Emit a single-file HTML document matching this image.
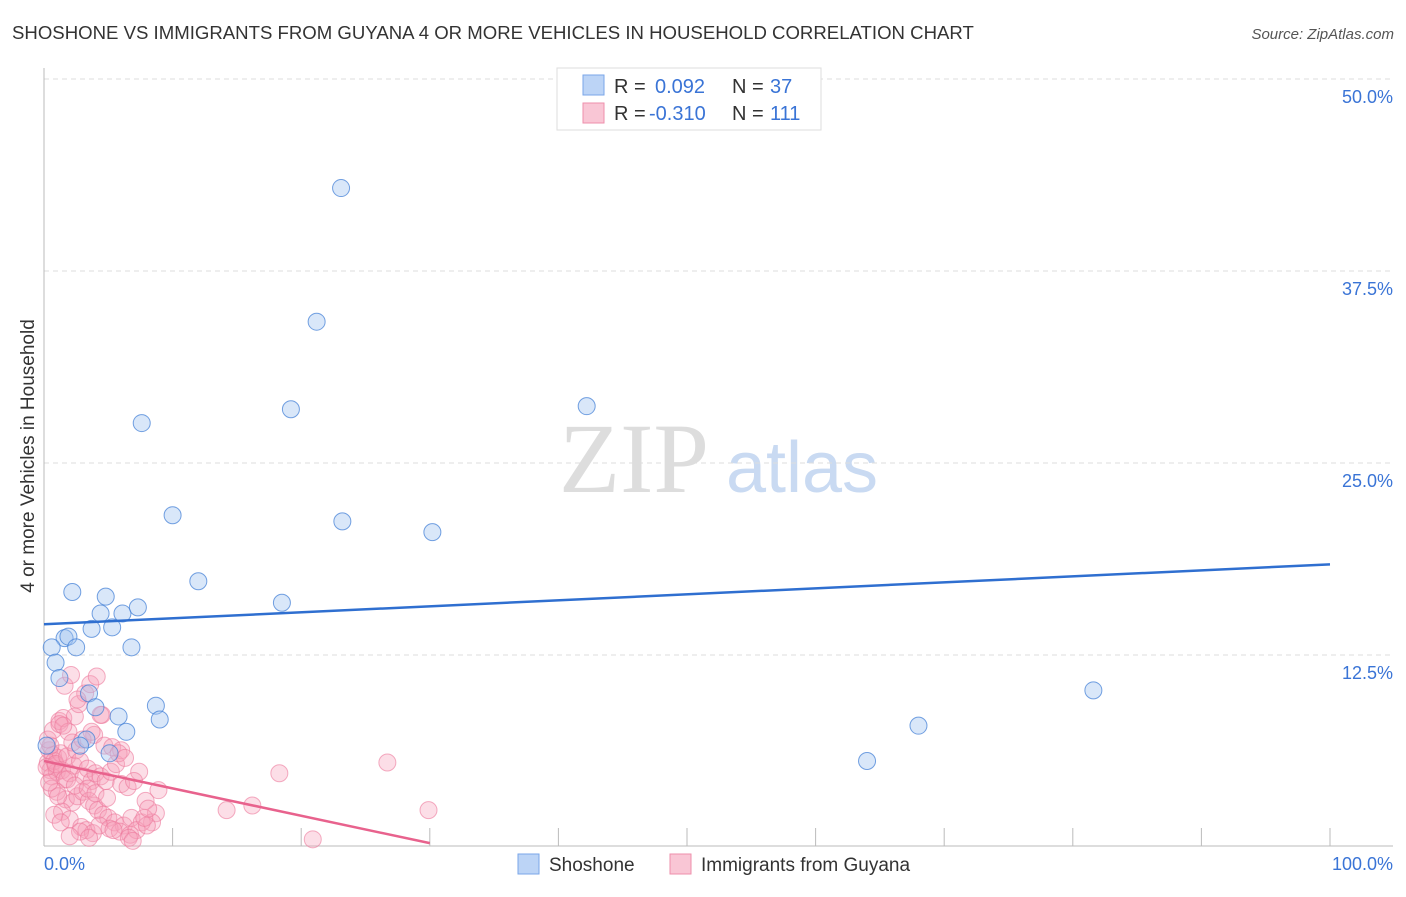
<!DOCTYPE html>
<html><head><meta charset="utf-8"><style>
body{margin:0;background:#fff;font-family:"Liberation Sans",sans-serif;}
</style></head><body>
<svg id="c" width="1406" height="892" xmlns="http://www.w3.org/2000/svg" font-family="Liberation Sans, sans-serif">
<text x="12" y="39" font-size="18.6" fill="#333">SHOSHONE VS IMMIGRANTS FROM GUYANA 4 OR MORE VEHICLES IN HOUSEHOLD CORRELATION CHART</text>
<text x="1394" y="39" font-size="15" fill="#555" font-style="italic" text-anchor="end">Source: ZipAtlas.com</text>
<text x="634" y="492" font-size="100" fill="#ddd" style="font-family:'Liberation Serif',serif" text-anchor="middle">ZIP</text>
<text x="802" y="492" font-size="72" fill="#c9daf2" text-anchor="middle">atlas</text>
<text x="34" y="456" font-size="19" fill="#333" text-anchor="middle" transform="rotate(-90 34 456)">4 or more Vehicles in Household</text>
<g id="grid"></g><g id="pts"></g><g id="trend"></g>
<g>
<rect x="557" y="68" width="264" height="62" fill="#fff" stroke="#ddd"/>
<rect x="583" y="75" width="21" height="20" fill="#bcd4f6" stroke="#7aa6e8"/>
<rect x="583" y="103" width="21" height="20" fill="#f9c6d5" stroke="#ee8fab"/>
<text x="614" y="93" font-size="20" fill="#333">R = </text><text x="655" y="93" font-size="20" fill="#3a74d6">0.092</text>
<text x="732" y="93" font-size="20" fill="#333">N = </text><text x="770" y="93" font-size="20" fill="#3a74d6">37</text>
<text x="614" y="120" font-size="20" fill="#333">R = </text><text x="649" y="120" font-size="20" fill="#3a74d6">-0.310</text>
<text x="732" y="120" font-size="20" fill="#333">N = </text><text x="770" y="120" font-size="20" fill="#3a74d6">111</text>
</g>
<g>
<rect x="518" y="854" width="21" height="20" fill="#bcd4f6" stroke="#7aa6e8"/>
<text x="549" y="871" font-size="19" fill="#333">Shoshone</text>
<rect x="670" y="854" width="21" height="20" fill="#f9c6d5" stroke="#ee8fab"/>
<text x="701" y="871" font-size="19" fill="#333">Immigrants from Guyana</text>
</g>
</svg>
<script>
const yTicks=[12.5,25.0,37.5,50.0];
const yTickLabels=["12.5%","25.0%","37.5%","50.0%"];
const xTickVals=[0,10,20,30,40,50,60,70,80,90,100];
const blueX=[23.1,21.2,19.2,42.2,7.6,10.0,23.2,30.2,12.0,2.2,4.8,18.5,4.4,6.1,7.3,3.7,5.3,1.6,1.9,0.6,2.5,6.8,0.9,1.2,3.5,4.0,8.7,9.0,5.8,6.4,3.3,2.8,5.1,81.6,68.0,64.0,0.2];
const blueY=[42.9,34.2,28.5,28.7,27.6,21.6,21.2,20.5,17.3,16.6,16.3,15.9,15.2,15.2,15.6,14.2,14.3,13.6,13.7,13.0,13.0,13.0,12.0,11.0,10.0,9.1,9.2,8.3,8.5,7.5,7.0,6.6,6.1,10.2,7.9,5.6,6.6];
const pinkX=[18.3,26.7,29.9,20.9,16.2,14.2,7.4,8.9,8.7,8.4,0.3,0.5,0.7,0.9,1.1,0.4,0.6,0.8,1.0,1.3,0.2,0.5,0.9,1.4,1.6,1.8,2.0,2.3,0.3,0.7,1.2,1.5,2.5,2.8,3.1,3.4,3.7,4.0,4.4,4.8,5.2,5.6,6.0,6.5,7.0,1.0,1.7,2.2,2.6,3.0,3.5,3.9,4.2,4.6,5.0,5.5,6.2,6.8,7.6,1.4,2.0,2.9,3.3,3.8,4.3,5.1,5.9,6.7,7.2,8.0,1.2,1.9,2.4,2.7,3.2,3.6,4.1,4.5,1.6,2.1,2.6,3.9,4.7,5.3,6.0,1.5,2.2,3.0,3.7,4.4,5.8,6.3,7.9,0.6,1.1,1.8,2.4,3.4,4.0,4.9,5.4,6.6,0.4,0.8,1.3,2.8,3.5,6.9,7.8,8.1,2.0];
const pinkY=[4.8,5.5,2.4,0.5,2.7,2.4,4.9,3.7,2.2,1.6,5.5,5.0,6.0,5.3,5.8,6.3,4.6,5.6,4.9,6.1,5.2,6.6,5.4,5.0,4.4,5.9,4.8,5.3,7.0,7.6,8.2,8.4,6.3,5.6,4.6,5.1,4.3,4.8,4.6,4.3,4.9,5.4,4.1,3.9,4.3,3.6,3.1,2.9,3.3,3.6,3.0,2.7,2.4,2.1,1.9,1.6,1.4,1.9,1.6,2.3,1.8,1.3,1.1,0.9,1.4,1.2,1.0,0.8,1.1,1.4,8.0,7.5,8.5,9.3,10.0,10.6,11.1,8.6,10.5,11.2,9.6,7.3,6.6,6.5,6.3,7.9,6.8,7.0,7.5,8.6,6.1,5.8,3.0,3.8,3.3,4.4,4.0,3.8,3.5,3.2,1.1,0.6,4.2,2.1,1.6,1.0,0.6,0.4,1.9,2.5,0.7];
const trendBlue=[14.5,18.4];
const trendPink=[5.6,0.25];
const trendPinkEnd=30;
const X=v=>44+v*12.86, Y=v=>847-v*15.36;
const NS="http://www.w3.org/2000/svg";
function mk(t,a,p){const e=document.createElementNS(NS,t);for(const k in a)e.setAttribute(k,a[k]);p.appendChild(e);return e;}
const g=document.getElementById('grid');
yTicks.forEach((v,i)=>{
 const l=mk('line',{x1:44,x2:1393,y1:Y(v),y2:Y(v),stroke:'#ddd','stroke-dasharray':'5,4'},g);
 
 
 const t=mk('text',{x:1393,y:Y(v)+24,'font-size':18,fill:'#3a74d6','text-anchor':'end'},g);
 t.textContent=yTickLabels[i];
 
 
});
const ax=mk('line',{x1:44,x2:44,y1:68,y2:846,stroke:'#bbb'},g);


const bx=mk('line',{x1:44,x2:1393,y1:846,y2:846,stroke:'#bbb'},g);


xTickVals.forEach(v=>{
 const l=mk('line',{x1:X(v),x2:X(v),y1:828,y2:846,stroke:'#bbb'},g);
 
 
});
const t0=mk('text',{x:44,y:870,'font-size':18,fill:'#3a74d6'},g);t0.textContent='0.0%';


const t1=mk('text',{x:1393,y:870,'font-size':18,fill:'#3a74d6','text-anchor':'end'},g);t1.textContent='100.0%';


const p=document.getElementById('pts');
pinkX.forEach((x,i)=>{
 const c=mk('circle',{cx:X(x),cy:Y(pinkY[i]),r:8.5,fill:'rgba(246,160,185,0.35)',stroke:'rgba(236,120,155,0.6)','stroke-width':1},p);
 
 
});
blueX.forEach((x,i)=>{
 const c=mk('circle',{cx:X(x),cy:Y(blueY[i]),r:8.5,fill:'rgba(160,195,240,0.4)',stroke:'rgba(70,130,215,0.75)','stroke-width':1},p);
 
 
});
const tr=document.getElementById('trend');
const lb=mk('line',{x1:X(0),y1:Y(trendBlue[0]),x2:X(100),y2:Y(trendBlue[1]),stroke:'#2f6fd0','stroke-width':2.5},tr);


const lp=mk('line',{x1:X(0),y1:Y(trendPink[0]),x2:X(trendPinkEnd),y2:Y(trendPink[1]),stroke:'#e8628d','stroke-width':2.5},tr);


</script>
</body></html>
